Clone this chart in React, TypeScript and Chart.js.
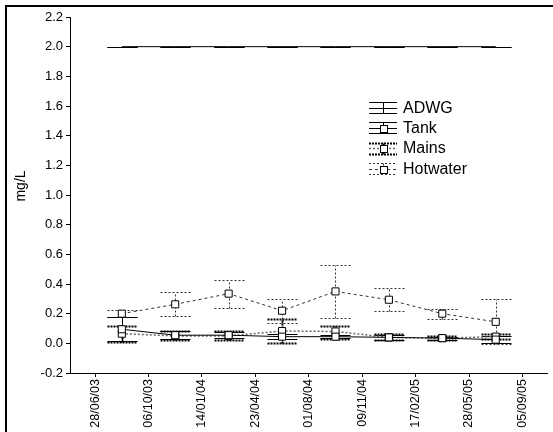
import React, { useEffect, useRef } from "react";
import { Chart, registerables } from "chart.js";

Chart.register(...registerables);

const tickLabels = ["28/06/03", "06/10/03", "14/01/04", "23/04/04", "01/08/04", "09/11/04", "17/02/05", "28/05/05", "05/09/05"];
// sample positions, in units of the 100-day tick interval
const samplePositions = [0.5, 1.5, 2.5, 3.5, 4.5, 5.5, 6.5, 7.5];

const adwg = [2.0, 2.0, 2.0, 2.0, 2.0, 2.0, 2.0, 2.0];

const tank = [0.095, 0.055, 0.055, 0.045, 0.045, 0.04, 0.035, 0.025];
const tankLow = [0.015, 0.03, 0.035, 0.03, 0.035, 0.025, 0.025, 0.0];
const tankHigh = [0.175, 0.08, 0.075, 0.06, 0.055, 0.055, 0.045, 0.05];

const mains = [0.065, 0.05, 0.05, 0.083, 0.08, 0.04, 0.035, 0.045];
const mainsLow = [0.01, 0.022, 0.022, 0.0, 0.03, 0.022, 0.022, 0.027];
const mainsHigh = [0.117, 0.083, 0.083, 0.165, 0.12, 0.061, 0.05, 0.062];

const hotwater = [0.2, 0.263, 0.335, 0.22, 0.35, 0.294, 0.2, 0.145];
const hotwaterLow = [0.177, 0.186, 0.24, 0.14, 0.17, 0.215, 0.163, -0.007];
const hotwaterHigh = [0.225, 0.344, 0.43, 0.3, 0.528, 0.372, 0.23, 0.297];

const seriesNames = ["ADWG", "Tank", "Mains", "Hotwater"];

const FONT = "'Liberation Sans', Arial, Helvetica, sans-serif";

type Style = { color: string; width: number; dash: number[] };
const barStyles: Style[] = [
  { color: "#000", width: 1, dash: [] },
  { color: "#000", width: 1, dash: [] },
  { color: "#000", width: 2, dash: [2, 1] },
  { color: "#333", width: 1, dash: [2, 2] },
];
const lineStyles: Style[] = [
  { color: "#000", width: 1, dash: [] },
  { color: "#000", width: 1, dash: [] },
  { color: "#666", width: 1.5, dash: [2, 2] },
  { color: "#333", width: 1, dash: [3, 3] },
];

const lows = [adwg, tankLow, mainsLow, hotwaterLow];
const highs = [adwg, tankHigh, mainsHigh, hotwaterHigh];

const CAP = 15;

const crisp = (v: number) => Math.round(v) + 0.5;

const framePlugin = {
  id: "frame",
  beforeDraw(chart: any) {
    const ctx = chart.ctx;
    ctx.save();
    ctx.fillStyle = "#fff";
    ctx.fillRect(0, 0, chart.width, chart.height);
    ctx.fillStyle = "#000";
    ctx.fillRect(5, 5, chart.width, 2);
    ctx.fillRect(5, 5, 2, chart.height);
    // y axis title
    ctx.translate(21, 186);
    ctx.rotate(-Math.PI / 2);
    ctx.font = `14px ${FONT}`;
    ctx.textAlign = "center";
    ctx.textBaseline = "middle";
    ctx.fillText("mg/L", 0, 0);
    ctx.restore();
  },
};

const errorBarPlugin = {
  id: "errbars",
  beforeDatasetsDraw(chart: any) {
    const ctx = chart.ctx;
    const ys = chart.scales.y;
    for (let i = lows.length - 1; i >= 0; i--) {
      const meta = chart.getDatasetMeta(i);
      const st = barStyles[i];
      ctx.save();
      ctx.strokeStyle = st.color;
      ctx.lineWidth = st.width;
      ctx.setLineDash(st.dash);
      meta.data.forEach((pt: any, j: number) => {
        const x = crisp(pt.x);
        const yl = crisp(ys.getPixelForValue(lows[i][j]));
        const yh = crisp(ys.getPixelForValue(highs[i][j]));
        ctx.beginPath();
        ctx.moveTo(x, yl);
        ctx.lineTo(x, yh);
        ctx.moveTo(x - CAP, yl);
        ctx.lineTo(x + CAP, yl);
        ctx.moveTo(x - CAP, yh);
        ctx.lineTo(x + CAP, yh);
        ctx.stroke();
      });
      ctx.restore();
    }
  },
};

const legendPlugin = {
  id: "customLegend",
  afterDraw(chart: any) {
    const ctx = chart.ctx;
    const centers = [107.5, 127.5, 148, 168.5];
    const x0 = 369;
    const x1 = 397;
    const cx = 383;
    ctx.save();
    seriesNames.forEach((name, i) => {
      const cy = centers[i];
      const bs = barStyles[i];
      const ls = lineStyles[i];
      ctx.strokeStyle = bs.color;
      ctx.lineWidth = bs.width;
      ctx.setLineDash(bs.dash);
      ctx.beginPath();
      ctx.moveTo(x0, crisp(cy - 5.5));
      ctx.lineTo(x1, crisp(cy - 5.5));
      ctx.moveTo(x0, crisp(cy + 5.5));
      ctx.lineTo(x1, crisp(cy + 5.5));
      ctx.moveTo(cx + 0.5, crisp(cy - 5.5));
      ctx.lineTo(cx + 0.5, crisp(cy + 5.5));
      ctx.stroke();
      ctx.strokeStyle = ls.color;
      ctx.lineWidth = ls.width;
      ctx.setLineDash(ls.dash);
      ctx.beginPath();
      ctx.moveTo(x0, crisp(cy));
      ctx.lineTo(x1, crisp(cy));
      ctx.stroke();
      ctx.setLineDash([]);
      if (i > 0) {
        ctx.fillStyle = "#fff";
        ctx.strokeStyle = "#000";
        ctx.lineWidth = 1;
        ctx.fillRect(cx - 3, Math.round(cy) - 3, 7, 7);
        ctx.strokeRect(cx - 2.5, Math.round(cy) - 2.5, 7, 7);
      }
      ctx.fillStyle = "#000";
      ctx.font = `16px ${FONT}`;
      ctx.textAlign = "left";
      ctx.textBaseline = "middle";
      ctx.fillText(name, 403, cy + 1);
    });
    ctx.restore();
  },
};

const toPoints = (vals: number[]) => vals.map((v, i) => ({ x: samplePositions[i], y: v }));

export default function App() {
  const ref = useRef<HTMLCanvasElement | null>(null);
  useEffect(() => {
    if (!ref.current) return;
    Chart.defaults.font.family = FONT;
    Chart.defaults.color = "#000";
    const valueSets = [adwg, tank, mains, hotwater];
    const chart = new Chart(ref.current, {
      type: "line",
      data: {
        datasets: valueSets.map((vals, i) => ({
          label: seriesNames[i],
          data: toPoints(vals),
          borderColor: lineStyles[i].color,
          borderWidth: lineStyles[i].width,
          borderDash: lineStyles[i].dash,
          pointStyle: "rect",
          pointRadius: i === 0 ? 0 : 5,
          pointHoverRadius: i === 0 ? 0 : 5,
          pointBackgroundColor: "#fff",
          pointBorderColor: "#000",
          pointBorderWidth: 1,
          fill: false,
          tension: 0,
        })),
      },
      options: {
        animation: false,
        responsive: false,
        events: [],
        layout: { padding: { top: 17, right: 6, left: 0, bottom: 0 } },
        plugins: { legend: { display: false }, tooltip: { enabled: false } },
        scales: {
          x: {
            type: "linear",
            min: -0.47,
            max: 8.46,
            afterBuildTicks: (scale: any) => {
              scale.ticks = tickLabels.map((_, i) => ({ value: i }));
            },
            afterFit: (scale: any) => {
              scale.height = 59;
            },
            grid: { drawOnChartArea: false, drawTicks: true, tickLength: 4, color: "#000" },
            border: { display: true, color: "#000", width: 1 },
            ticks: {
              autoSkip: false,
              maxRotation: 90,
              minRotation: 90,
              padding: 2,
              font: { size: 12.5 },
              color: "#000",
              callback: (v: any) => tickLabels[Math.round(Number(v))] ?? "",
            },
          },
          y: {
            min: -0.2,
            max: 2.2,
            afterFit: (scale: any) => {
              scale.width = 70;
            },
            grid: { drawOnChartArea: false, drawTicks: true, tickLength: 4, color: "#000" },
            border: { display: true, color: "#000", width: 1 },
            ticks: {
              stepSize: 0.2,
              padding: 3,
              font: { size: 13 },
              color: "#000",
              callback: (v: any) => Number(v).toFixed(1),
            },
          },
        },
      },
      plugins: [framePlugin, errorBarPlugin, legendPlugin],
    } as any);
    return () => chart.destroy();
  }, []);
  return (
    <div style={{ position: "fixed", left: 0, top: 0, width: 553, height: 432 }}>
      <canvas ref={ref} width={553} height={432} style={{ width: 553, height: 432, display: "block" }} />
    </div>
  );
}
